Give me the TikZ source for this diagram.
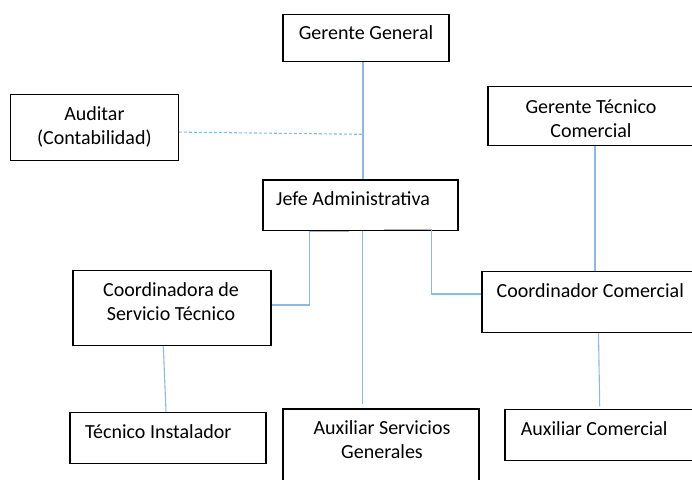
\documentclass[tikz,border=0pt]{standalone}
\usepackage{fontspec}
\setmainfont{Carlito}
\definecolor{linkblue}{RGB}{140,186,228}
\begin{document}
\begin{tikzpicture}[x=1pt,y=-1pt,
  box/.style={draw=black,line width=1.3pt,inner sep=0pt,fill=white},
  lbl/.style={inner sep=0pt,font=\fontsize{20}{24}\selectfont,align=center},
  conn/.style={draw=linkblue,line width=1.1pt},
  dashconn/.style={draw=linkblue,line width=1.1pt,dash pattern=on 3pt off 2pt}]
\useasboundingbox (0,0) rectangle (692,479);
\clip (0,0) rectangle (692,479);
\fill[white] (0,0) rectangle (692,479);
% boxes
\node[box,minimum width=166pt,minimum height=47pt] (gg) at (366,37.7) {};
\node[box,minimum width=168pt,minimum height=66pt] (aud) at (94.3,127.5) {};
\node[box,minimum width=220pt,minimum height=59pt] (gtc) at (598,116.3) {};
\node[box,minimum width=195pt,minimum height=50.5pt] (jefe) at (360.5,205.3) {};
\node[box,minimum width=198pt,minimum height=75pt] (cst) at (172,308) {};
\node[box,minimum width=225pt,minimum height=61pt] (cc) at (594.5,302) {};
\node[box,minimum width=196pt,minimum height=51.5pt] (ti) at (168,438) {};
\node[box,minimum width=196pt,minimum height=80pt] (asg) at (381,449) {};
\node[box,minimum width=200pt,minimum height=51pt] (ac) at (605,435) {};
% texts
\node[lbl] (gg-t) at (366,33) {Gerente General};
\node[lbl] (aud-t) at (94.4,126.5) {Auditar\\(Contabilidad)};
\node[lbl] (gtc-t) at (591,118.5) {Gerente Técnico\\Comercial};
\node[lbl,anchor=west] (jefe-t) at (276,199) {Jefe Administrativa};
\node[lbl] (cst-t) at (171,302) {Coordinadora de\\Servicio Técnico};
\node[lbl,anchor=west] (cc-t) at (496.5,291) {Coordinador Comercial};
\node[lbl,anchor=west] (ti-t) at (85,431.7) {Técnico Instalador};
\node[lbl] (asg-t) at (382,440) {Auxiliar Servicios\\Generales};
\node[lbl,anchor=west] (ac-t) at (520.7,429) {Auxiliar Comercial};
% connector points
\coordinate (mid) at (363,134.3);
\coordinate (lA) at (349,231.5);
\coordinate (lB) at (309.4,231.5);
\coordinate (lC) at (309.4,305);
\coordinate (rA) at (384,229.5);
\coordinate (rB) at (431.6,229.5);
\coordinate (rC) at (431.6,294);
\coordinate (cEnd) at (362.7,404);
% connectors
\draw[conn] (gg.south -| mid) -- (jefe.north -| mid);
\draw[dashconn] ([yshift=-4.6pt]aud.east) -- (mid);
\draw[conn] (lA) -- (lB) -- (lC) -- (cst.east |- lC);
\draw[conn] (rA) -- (rB) -- (rC) -- (cc.west |- rC);
\draw[conn] (jefe.south -| cEnd) -- (cEnd);
\draw[conn] ([xshift=-8.7pt]cst.south) -- ([xshift=-2pt]ti.north);
\draw[conn] ([xshift=4pt]cc.south) -- ([xshift=-5.3pt,yshift=2.5pt]ac.north);
\draw[conn] ([xshift=-3pt]gtc.south) -- ([xshift=0.5pt]cc.north);
\end{tikzpicture}
\end{document}
